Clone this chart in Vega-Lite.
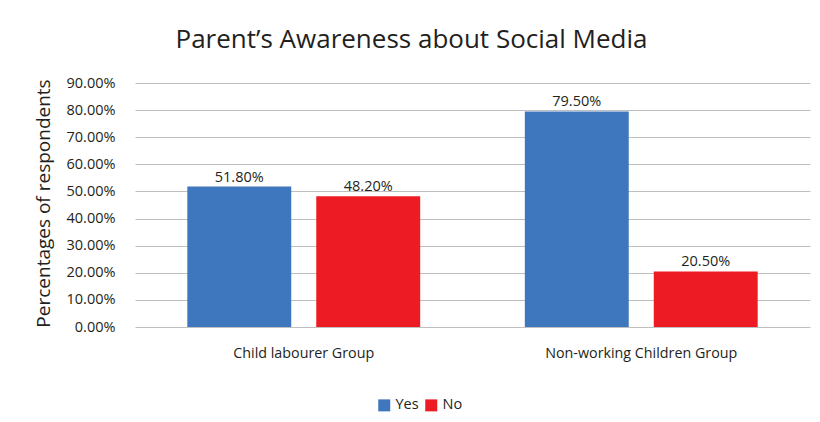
{
  "$schema": "https://vega.github.io/schema/vega-lite/v6.json",
  "width": 675,
  "height": 244,
  "autosize": {"type": "none"},
  "padding": {"left": 135, "top": 83, "right": 10, "bottom": 95},
  "background": "white",
  "title": {
    "text": "Parent’s Awareness about Social Media",
    "font": "Open Sans",
    "fontSize": 26,
    "fontWeight": "normal",
    "color": "#231f20",
    "anchor": "middle",
    "dx": -61,
    "offset": 22
  },
  "config": {
    "view": {"stroke": null},
    "font": "Open Sans",
    "axis": {
      "labelFont": "Open Sans",
      "titleFont": "Open Sans",
      "labelColor": "#231f20",
      "titleColor": "#231f20",
      "gridColor": "#bfbfbf",
      "gridWidth": 1,
      "ticks": false,
      "domain": false
    }
  },
  "data": {
    "values": [
      {"group": "Child labourer Group", "answer": "Yes", "value": 0.518},
      {"group": "Child labourer Group", "answer": "No", "value": 0.482},
      {"group": "Non-working Children Group", "answer": "Yes", "value": 0.795},
      {"group": "Non-working Children Group", "answer": "No", "value": 0.205}
    ]
  },
  "encoding": {
    "x": {
      "field": "group",
      "type": "nominal",
      "sort": null,
      "scale": {"paddingInner": 0.31, "paddingOuter": 0.155},
      "axis": {"labelAngle": 0, "title": null, "labelPadding": 19, "labelFontSize": 14.3, "labelLimit": 0, "grid": false}
    },
    "xOffset": {
      "field": "answer",
      "type": "nominal",
      "sort": ["Yes", "No"],
      "scale": {"paddingInner": 0.194, "paddingOuter": 0}
    },
    "y": {
      "field": "value",
      "type": "quantitative",
      "scale": {"domain": [0, 0.9], "nice": false},
      "axis": {
        "format": ".2%",
        "values": [0, 0.1, 0.2, 0.3, 0.4, 0.5, 0.6, 0.7, 0.8, 0.9],
        "title": "Percentages of respondents",
        "titleFontSize": 19,
        "titleFontWeight": "normal",
        "titleX": -92,
        "titleY": 120,
        "titleAngle": 270,
        "titleAlign": "center",
        "titleBaseline": "middle",
        "labelPadding": 20,
        "labelFontSize": 14.5
      }
    }
  },
  "layer": [
    {
      "mark": {"type": "bar"},
      "encoding": {
        "color": {
          "field": "answer",
          "type": "nominal",
          "sort": ["Yes", "No"],
          "scale": {"domain": ["Yes", "No"], "range": ["#3e77bd", "#ed1c24"]},
          "legend": {
            "orient": "none",
            "legendX": 242,
            "legendY": 315,
            "direction": "horizontal",
            "title": null,
            "symbolType": "square",
            "symbolSize": 144,
            "symbolStrokeWidth": 0,
            "symbolOpacity": 1,
            "labelFontSize": 14.5,
            "labelFont": "Open Sans",
            "labelColor": "#231f20",
            "labelOffset": 4,
            "columnPadding": 5,
            "padding": 0
          }
        }
      }
    },
    {
      "mark": {"type": "text", "baseline": "alphabetic", "dy": -5, "fontSize": 14.5, "font": "Open Sans", "color": "#231f20"},
      "encoding": {
        "text": {"field": "value", "type": "quantitative", "format": ".2%"}
      }
    }
  ]
}
